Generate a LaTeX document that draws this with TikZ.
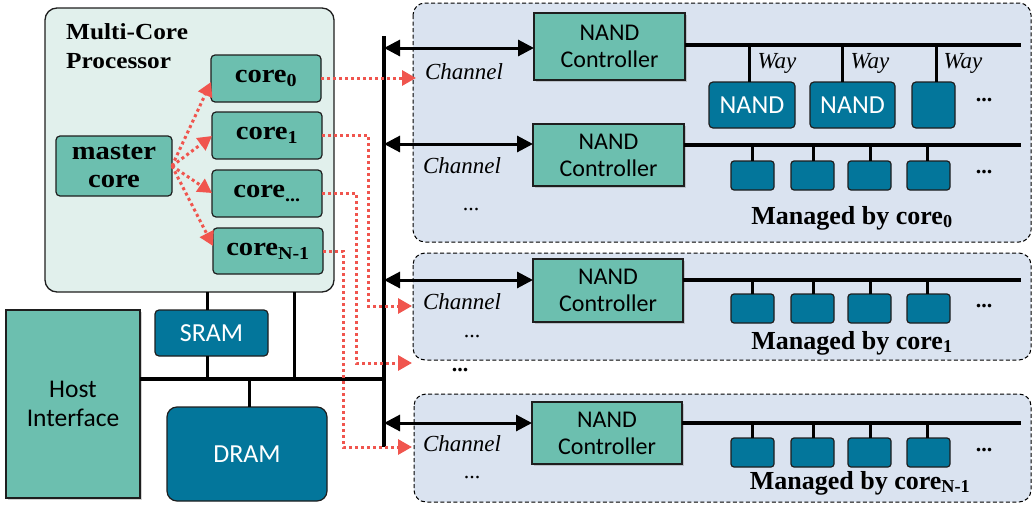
\documentclass[tikz,border=0pt]{standalone}
\usepackage{fontspec}
\setmainfont{Liberation Serif}
\newfontfamily\calib{Carlito}
\newfontfamily\widefont{Liberation Serif}[FakeStretch=1.1]
\usetikzlibrary{arrows.meta,shadows}
\definecolor{teal1}{HTML}{6CBFAF}
\definecolor{navy1}{HTML}{03769B}
\definecolor{procbg}{HTML}{E1F0EC}
\definecolor{chbg}{HTML}{DAE3F0}
\definecolor{red1}{HTML}{F0554E}
\definecolor{edge}{HTML}{1E1E1E}
\begin{document}
\begin{tikzpicture}[x=1pt,y=-1pt,
  base/.style={draw=edge, line width=1.2pt, inner sep=0pt, outer sep=0pt, anchor=north west},
  core/.style={base, fill=teal1, rounded corners=4pt, font=\widefont\fontsize{26}{30}\selectfont\bfseries, align=center},
  ctrl/.style={base, fill=teal1, font=\calib\fontsize{24}{27}\selectfont, align=center,
     drop shadow={opacity=.35, shadow xshift=2pt, shadow yshift=-2pt}},
  navybox/.style={base, fill=navy1, rounded corners=4pt, text=white, font=\calib\fontsize{26}{28}\selectfont},
  chip/.style={base, fill=navy1, rounded corners=3pt, minimum width=43pt, minimum height=29pt},
  region/.style={draw=black, line width=1pt, dash pattern=on 4pt off 2.5pt, fill=chbg, rounded corners=12pt},
  bus/.style={line width=4pt},
  stem/.style={line width=3pt},
  chan/.style={line width=3pt, {Triangle[length=16pt,width=16pt]}-{Triangle[length=16pt,width=16pt]}},
  redarr/.style={red1, line width=3pt, dash pattern=on 3pt off 3pt, -{Triangle[length=14pt,width=15pt]}},
  lbl/.style={font=\fontsize{23}{25}\selectfont\itshape, inner sep=0pt},
  dots/.style={font=\fontsize{22}{24}\selectfont\bfseries, inner sep=0pt},
  mgd/.style={font=\fontsize{26}{28}\selectfont\bfseries, inner sep=0pt}
]
\useasboundingbox (0,0) rectangle (1034,506);

% ---------- channel regions ----------
\path[region] (413,3) rectangle (1031,242);
\path[region] (413,253) rectangle (1031,360);
\path[region] (414,394) rectangle (1031,502);

% ---------- processor ----------
\draw[draw=edge, line width=1.3pt, fill=procbg, rounded corners=12pt] (45,8) rectangle (334,292);
\node[anchor=north west, align=left, inner sep=0pt, font=\widefont\fontsize{23}{29}\selectfont\bfseries] (title) at (66,23) {Multi-Core\\Processor};

\node[core, minimum width=116pt, minimum height=60pt] (master) at (56,136) {master\\[-2pt]core};
\node[core, minimum width=110pt, minimum height=47pt] (c0) at (211,55) {core\textsubscript{0}};
\node[core, minimum width=110pt, minimum height=47pt] (c1) at (212,112) {core\textsubscript{1}};
\node[core, minimum width=110pt, minimum height=47pt] (cd) at (212,170) {core\textsubscript{...}};
\node[core, minimum width=110pt, minimum height=46pt] (cn) at (213,228) {core\textsubscript{N-1}};

% ---------- memories / host ----------
\node[base, fill=teal1, minimum width=134pt, minimum height=188pt, align=center,
      font=\calib\fontsize{25.5}{29}\selectfont,
      drop shadow={opacity=.35, shadow xshift=2pt, shadow yshift=-2pt}] (host) at (6,310) {Host\\Interface};
\node[navybox, minimum width=113pt, minimum height=46pt] (sram) at (155,310) {SRAM};
\node[navybox, rounded corners=10pt, minimum width=160pt, minimum height=94pt] (dram) at (167,407) {DRAM};

% ---------- system buses ----------
\coordinate (vtop) at (384,36);
\coordinate (vbot) at (384,447);
\coordinate (hb) at (384,379);
\draw[line width=3.3pt] (vtop) -- (vbot);
\draw[bus] (host.east |- hb) -- (hb);
\draw[stem] (207,292) -- (sram.north -| 207,0);
\draw[stem] (sram.south -| 207,0) -- (207,379);
\draw[stem] (294,292) -- (294,379);
\draw[stem] (249,379) -- (dram.north -| 249,0);

% ---------- NAND controllers ----------
\node[ctrl, minimum width=151pt, minimum height=67pt] (k1) at (534,13) {NAND\\Controller};
\node[ctrl, minimum width=151pt, minimum height=62pt] (k2) at (533,124) {NAND\\Controller};
\node[ctrl, minimum width=150pt, minimum height=63pt] (k3) at (533,259) {NAND\\Controller};
\node[ctrl, minimum width=150pt, minimum height=62pt] (k4) at (532,402) {NAND\\Controller};

\coordinate (b1) at (384,48);
\coordinate (b2) at (384,144);
\coordinate (b3) at (384,280);
\coordinate (b4) at (384,423);
\draw[chan] (b1) -- (k1.west |- b1);
\draw[chan] (b2) -- (k2.west |- b2);
\draw[chan] (b3) -- (k3.west |- b3);
\draw[chan] (b4) -- (k4.west |- b4);

\node[lbl] (ch1) at (464,72) {Channel};
\node[lbl] (ch2) at (462,166) {Channel};
\node[lbl] (ch3) at (462,302) {Channel};
\node[lbl] (ch4) at (462,444) {Channel};

\node[font=\fontsize{22}{24}\selectfont, inner sep=0pt] (d1) at (471,210) {...};
\node[font=\fontsize{22}{24}\selectfont, inner sep=0pt] (d2) at (472,337) {...};
\node[font=\fontsize{22}{24}\selectfont, inner sep=0pt] (d3) at (472,478) {...};
\node[dots] (dm) at (460,370) {...};

% ---------- row 1 : ways ----------
\coordinate (e1) at (1021,45);
\draw[bus] (k1.east |- e1) -- (e1);
\node[navybox, minimum width=86pt, minimum height=46pt] (n1) at (709,82) {NAND};
\node[navybox, minimum width=85pt, minimum height=46pt] (n2) at (810,82) {NAND};
\node[navybox, minimum width=43pt, minimum height=46pt] (n3) at (912,82) {};
\draw[stem] (749,45) -- (n1.north -| 749,0);
\draw[stem] (842,45) -- (n2.north -| 842,0);
\draw[stem] (936,45) -- (n3.north -| 936,0);
\node[lbl] (w1) at (777,63) {Way};
\node[lbl] (w2) at (870,63) {Way};
\node[lbl] (w3) at (963,63) {Way};
\node[dots] (r1) at (984,100) {...};

% ---------- row 2 ----------
\coordinate (e2) at (1021,145);
\draw[bus] (k2.east |- e2) -- (e2);
\foreach \xx/\sx/\i in {731/752/a,791/813/b,848/870/c,907/927/d}{
  \node[chip] (r2\i) at (\xx,161) {};
  \draw[stem] (\sx,145) -- (r2\i.north -| \sx,0);
}
\node[dots] (r2dots) at (984,172) {...};
\node[mgd] (m0) at (852,218) {Managed by core\textsubscript{0}};

% ---------- row 3 ----------
\coordinate (e3) at (1021,280);
\draw[bus] (k3.east |- e3) -- (e3);
\foreach \xx/\sx/\i in {731/752/a,791/813/b,848/870/c,907/927/d}{
  \node[chip] (r3\i) at (\xx,294) {};
  \draw[stem] (\sx,280) -- (r3\i.north -| \sx,0);
}
\node[dots] (r3dots) at (984,306) {...};
\node[mgd] (m1) at (852,343) {Managed by core\textsubscript{1}};

% ---------- row 4 ----------
\coordinate (e4) at (1021,423);
\draw[bus] (k4.east |- e4) -- (e4);
\foreach \xx/\sx/\i in {731/752/a,791/813/b,848/870/c,907/927/d}{
  \node[chip] (r4\i) at (\xx,438) {};
  \draw[stem] (\sx,423) -- (r4\i.north -| \sx,0);
}
\node[dots] (r4dots) at (984,450) {...};
\node[mgd] (m2) at (860,483) {Managed by core\textsubscript{N-1}};

% ---------- red dotted connectors ----------
\coordinate (ms) at (172,166);
\draw[redarr] (ms) -- (c0.west |- 0,82);
\draw[redarr] (ms) -- (c1.west |- 0,136);
\draw[redarr] (ms) -- (cd.west |- 0,193);
\draw[redarr] (ms) -- (cn.west |- 0,246);

\coordinate (t0) at (416,78);
\coordinate (t1) at (412,306);
\coordinate (t2) at (412,363);
\coordinate (t3) at (412,447);
\draw[redarr] (c0.east |- t0) -- (t0);
\draw[redarr] (c1.east |- 0,135) -| (368,306) -- (t1);
\draw[redarr] (cd.east |- 0,193) -| (356,363) -- (t2);
\draw[redarr] (cn.east |- 0,251) -| (343,447) -- (t3);
\end{tikzpicture}
\end{document}
